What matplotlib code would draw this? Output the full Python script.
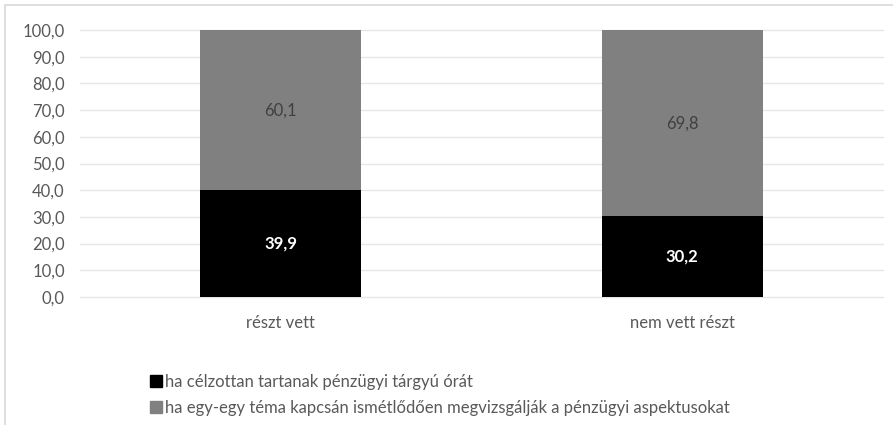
import matplotlib
matplotlib.use("Agg")
import matplotlib.pyplot as plt
from matplotlib.patches import Rectangle

plt.rcParams['font.family'] = ['Lato', 'DejaVu Sans']

categories = ["részt vett", "nem vett részt"]
series_names = ["ha célzottan tartanak pénzügyi tárgyú órát",
                "ha egy-egy téma kapcsán ismétlődően megvizsgálják a pénzügyi aspektusokat"]
targeted = [39.9, 30.2]
repeated = [60.1, 69.8]
yticks = [0, 10, 20, 30, 40, 50, 60, 70, 80, 90, 100]

FS = 12

fig = plt.figure(figsize=(8.93, 4.25), dpi=100)
fig.patches.append(Rectangle((5/893, -0.1), 1.2, 1 - 5/425 + 0.1, transform=fig.transFigure,
                             fill=False, edgecolor='#d9d9d9', linewidth=1.2))
ax = fig.add_axes([80/893, 128/425, 803/893, 267/425])

x = list(range(len(categories)))
ax.bar(x, targeted, width=0.4, color='#000000', zorder=3)
ax.bar(x, repeated, width=0.4, bottom=targeted, color='#808080', zorder=3)

for xi, v in zip(x, targeted):
    ax.text(xi, v / 2, f"{v:.1f}".replace('.', ','), ha='center', va='center',
            color='white', fontsize=FS, fontweight='bold', zorder=4)
for xi, b, v in zip(x, targeted, repeated):
    ax.text(xi, b + v / 2, f"{v:.1f}".replace('.', ','), ha='center', va='center',
            color='#404040', fontsize=FS, zorder=4)

ax.set_xlim(-0.5, 1.5)
ax.set_ylim(0, 100)
ax.set_yticks(yticks)
ax.set_yticklabels([f"{t:.1f}".replace('.', ',') for t in yticks])
ax.set_xticks(x)
ax.set_xticklabels(categories)
ax.tick_params(axis='both', length=0, labelsize=FS, labelcolor='#595959')
ax.tick_params(axis='y', pad=11)
ax.tick_params(axis='x', pad=13)
ax.yaxis.grid(True, color='#e6e6e6', linewidth=1, zorder=0)
for gl in ax.get_ygridlines():
    gl.set_clip_on(False)
for s in ax.spines.values():
    s.set_visible(False)

handles = [Rectangle((0, 0), 1, 1, color='#000000'), Rectangle((0, 0), 1, 1, color='#808080')]
leg = fig.legend(handles, series_names, loc='upper left', bbox_to_anchor=(150/893, 1 - 374/425),
                 frameon=False, fontsize=FS, handlelength=0.72, handleheight=0.72,
                 handletextpad=0.2, labelspacing=0.6, borderpad=0, borderaxespad=0)
for t in leg.get_texts():
    t.set_color('#595959')

fig.savefig("out.png", dpi=100)
